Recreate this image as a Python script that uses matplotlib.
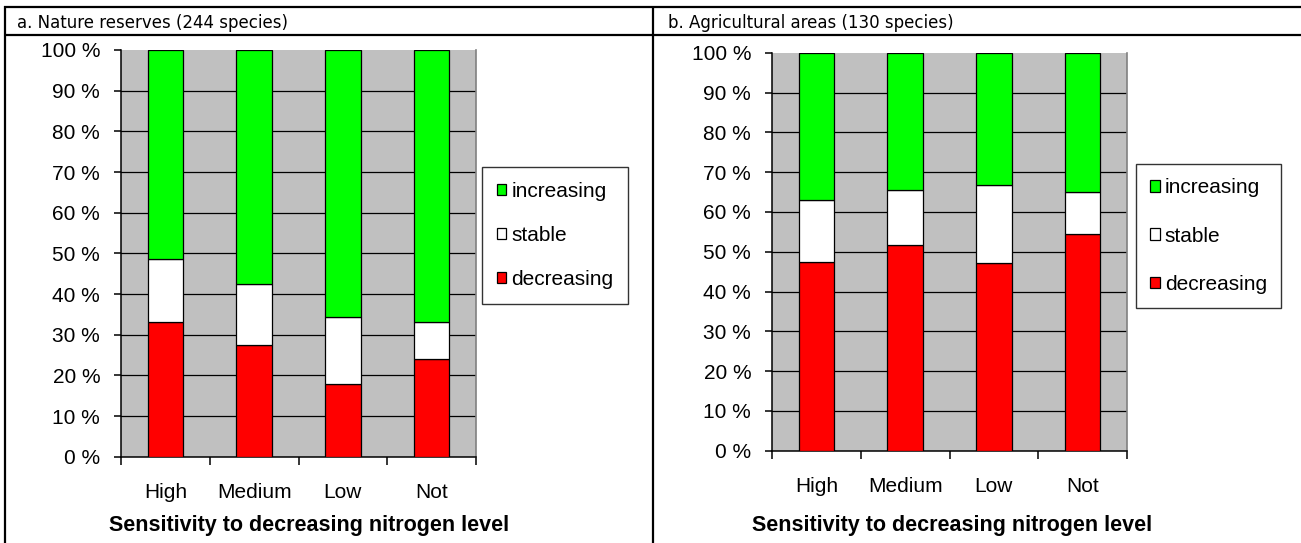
import matplotlib
matplotlib.use("Agg")
import matplotlib.pyplot as plt
from matplotlib.lines import Line2D
from matplotlib.patches import Patch
import numpy as np

W, H = 1301, 543

categories = ["High", "Medium", "Low", "Not"]
series_names = ["decreasing", "stable", "increasing"]
series_colors = ["#FF0000", "#FFFFFF", "#00FF00"]

# panel a: Nature reserves (percent)
a_decreasing = [33.2, 27.5, 17.9, 24.0]
a_stable = [15.3, 15.0, 16.5, 9.2]
a_increasing = [51.5, 57.5, 65.6, 66.8]

# panel b: Agricultural areas (percent)
b_decreasing = [47.5, 51.6, 47.1, 54.4]
b_stable = [15.5, 13.9, 19.7, 10.7]
b_increasing = [37.0, 34.5, 33.2, 34.9]

yticks = [0, 10, 20, 30, 40, 50, 60, 70, 80, 90, 100]
ytick_labels = [f"{v} %" for v in yticks]
titles = ["a. Nature reserves (244 species)", "b. Agricultural areas (130 species)"]
xlabel = "Sensitivity to decreasing nitrogen level"

ARIAL = "Liberation Sans"
FS = 15

fig = plt.figure(figsize=(W / 100, H / 100), dpi=100)
fig.patch.set_facecolor("white")


def fx(px):
    return px / W


def fy(py):
    return 1 - py / H


# table frame
lw_frame = 1.6
for (x0, y0, x1, y1) in [(5, 6.4, 5, H), (653, 6.4, 653, H), (4.4, 7, W, 7), (5, 35, W, 35)]:
    fig.add_artist(Line2D([fx(x0), fx(x1)], [fy(y0), fy(y1)], color="black",
                          lw=lw_frame, transform=fig.transFigure,
                          solid_capstyle="butt"))

panels = [
    dict(data=[a_decreasing, a_stable, a_increasing], ax=(121, 50, 476, 456.7),
         title_x=17, xlabel_x=309, legend_c=(555, 235.5), lsp=1.2),
    dict(data=[b_decreasing, b_stable, b_increasing], ax=(772, 52.7, 1127, 450.7),
         title_x=668, xlabel_x=952, legend_c=(1208.5, 236), lsp=1.4),
]

for i, p in enumerate(panels):
    x0, y0, x1, y1 = p["ax"]
    ax = fig.add_axes([fx(x0), fy(y1), fx(x1) - fx(x0), fy(y0) - fy(y1)])
    ax.set_facecolor("#C0C0C0")
    ax.set_xlim(-0.5, len(categories) - 0.5)
    ax.set_ylim(0, 100)
    for g in yticks[1:-1]:
        ax.axhline(g, color="black", lw=0.9, zorder=1)
    x = np.arange(len(categories))
    bottom = np.zeros(len(categories))
    for vals, name, col in zip(p["data"], series_names, series_colors):
        ax.bar(x, vals, width=0.4, bottom=bottom, color=col, edgecolor="black",
               linewidth=0.9, label=name, zorder=3)
        bottom = bottom + np.array(vals)
    ax.spines["top"].set_visible(False)
    ax.spines["right"].set_color("#808080")
    ax.spines["right"].set_linewidth(1.2)
    ax.spines["left"].set_linewidth(1.1)
    ax.spines["bottom"].set_linewidth(1.1)
    ax.set_yticks(yticks)
    ax.set_yticklabels(ytick_labels, fontfamily=ARIAL, fontsize=FS)
    ax.tick_params(axis="y", direction="out", length=5, width=1.1, pad=10)
    ax.set_xticks(x)
    ax.set_xticklabels(categories, fontfamily=ARIAL, fontsize=FS)
    ax.tick_params(axis="x", which="major", length=0, pad=19)
    ax.set_xticks(np.arange(-0.5, len(categories)), minor=True)
    ax.tick_params(axis="x", which="minor", direction="out", length=6, width=1.1)

    fig.text(fx(p["title_x"]), fy(28), titles[i], fontfamily="DejaVu Sans",
             fontsize=12, va="baseline", ha="left")
    fig.text(fx(p["xlabel_x"]), fy(525), xlabel, fontfamily=ARIAL, fontsize=15.5,
             fontweight="bold", ha="center", va="center")

    handles = [Patch(facecolor=c, edgecolor="black", linewidth=0.9)
               for c in series_colors[::-1]]
    leg = fig.legend(handles, series_names[::-1], loc="center",
                     bbox_to_anchor=(fx(p["legend_c"][0]), fy(p["legend_c"][1])),
                     bbox_transform=fig.transFigure,
                     prop=dict(family=ARIAL, size=FS), frameon=True, fancybox=False,
                     shadow=False, handlelength=0.45, handleheight=0.45,
                     handletextpad=0.25, labelspacing=p["lsp"], borderpad=0.7,
                     borderaxespad=0)
    leg.get_frame().set_edgecolor("black")
    leg.get_frame().set_linewidth(1.0)

fig.savefig("out.png", dpi=100)
